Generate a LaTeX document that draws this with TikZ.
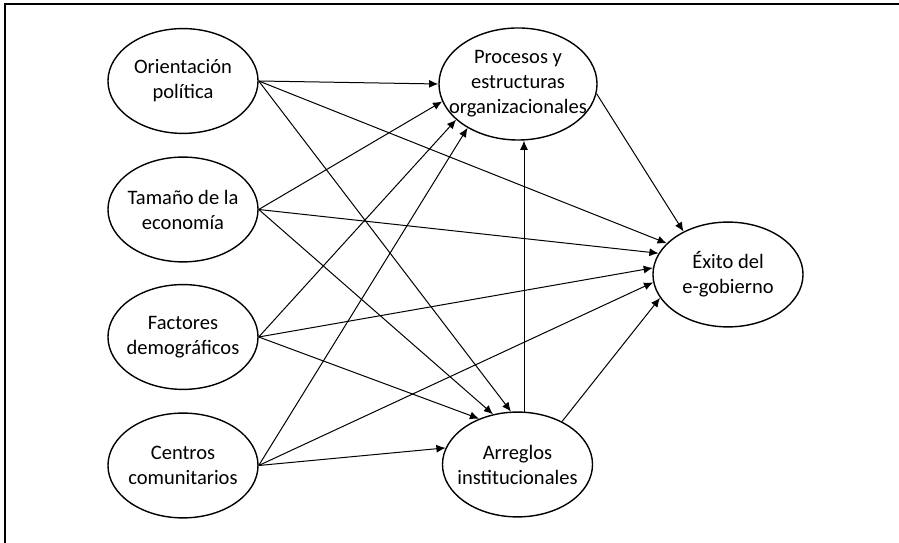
\documentclass[tikz,border=0pt]{standalone}
\usepackage{fontspec}
\setmainfont{Carlito}
\usetikzlibrary{arrows.meta,shapes.geometric}

\begin{document}
\begin{tikzpicture}[x=0.025cm,y=0.025cm,
		>={Latex[length=2.3mm,width=2mm]},
		var/.style={draw,ellipse,line width=0.35mm,inner sep=-12pt,minimum width=3.75cm,minimum height=2.62cm,align=center,font=\fontsize{14.6}{17.8}\selectfont},
		flecha/.style={line width=0.25mm,->}]
		\useasboundingbox (0,0) rectangle (899,543);
		\draw[line width=0.4mm] (5,0) -- (5,539) -- (899,539);
		\node[var] (orient) at (183,462) {Orientación\\política};
		\node[var] (tam) at (183,333.5) {Tamaño de la\\economía};
		\node[var] (fact) at (183,206) {Factores\\demográficos};
		\node[var] (cent) at (183,77.5) {Centros\\comunitarios};
		\node[var,minimum width=3.95cm,minimum height=2.8cm] (proc) at (518,459) {Procesos y\\estructuras\\organizacionales};
		\node[var] (arreg) at (517.5,78.5) {Arreglos\\institucionales};
		\node[var] (exito) at (728,268.5) {Éxito del\\e-gobierno};
		\draw[flecha] (orient.east) -- (proc.180);
		\draw[flecha] (orient.east) -- (exito.153);
		\draw[flecha] (orient.east) -- (arreg.97);
		\draw[flecha] (tam.east) -- (proc.193);
		\draw[flecha] (tam.east) -- (exito.163);
		\draw[flecha] (tam.east) -- (arreg.116);
		\draw[flecha] (fact.east) -- (proc.210);
		\draw[flecha] (fact.east) -- (exito.175);
		\draw[flecha] (fact.east) -- (arreg.130);
		\draw[flecha] (cent.east) -- (proc.221);
		\draw[flecha] (cent.east) -- (exito.186);
		\draw[flecha] (cent.east) -- (arreg.167);
		\draw[flecha] (arreg.83) -- (arreg.83 |- proc.south);
		\draw[flecha] (arreg.44) -- (exito.199);
		\draw[flecha] (proc.353) -- (exito.136);
\end{tikzpicture}
\end{document}
